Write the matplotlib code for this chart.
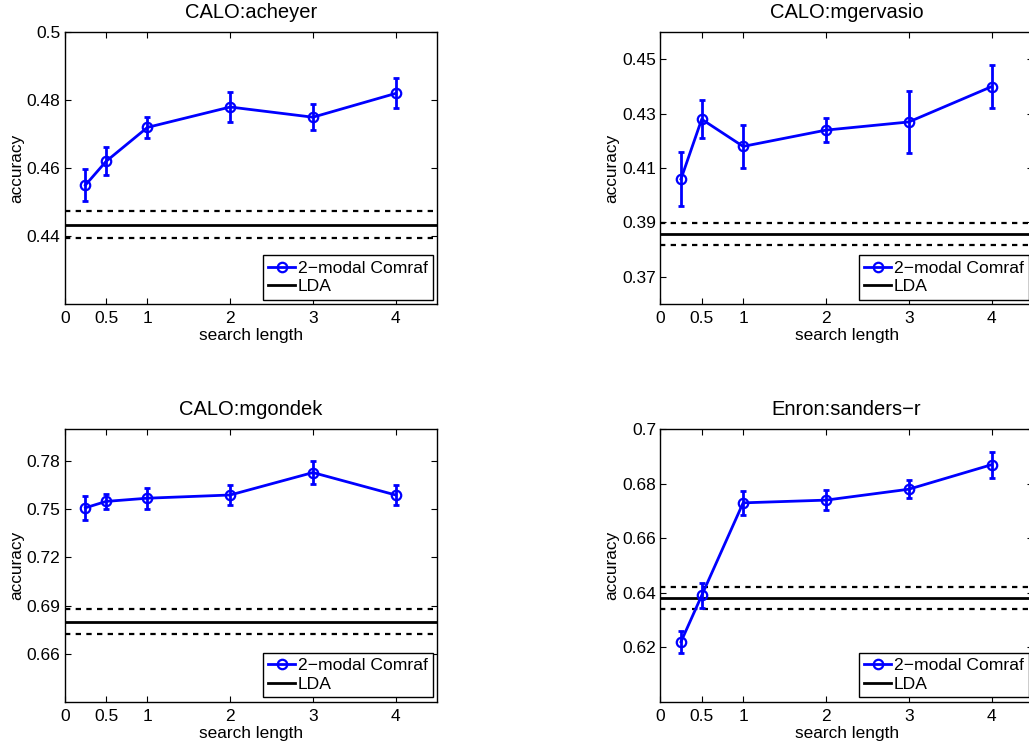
"""
Accuracy vs. search length for 2-modal Comraf, with the LDA baseline (mean +/- std).
"""
import matplotlib
matplotlib.use("Agg")
import matplotlib.pyplot as plt

plt.rcParams["font.family"] = ["Liberation Sans", "DejaVu Sans"]

search_length = [0.25, 0.5, 1, 2, 3, 4]
x_ticks = [0, 0.5, 1, 2, 3, 4]
x_tick_labels = ["0", "0.5", "1", "2", "3", "4"]

titles = ["CALO:acheyer", "CALO:mgervasio", "CALO:mgondek", "Enron:sanders\u2212r"]

# Comraf accuracy and error for each dataset
acc_acheyer = [0.455, 0.462, 0.472, 0.478, 0.475, 0.482]
err_acheyer = [0.0048, 0.0041, 0.003, 0.0044, 0.0039, 0.0044]
acc_mgervasio = [0.406, 0.428, 0.418, 0.424, 0.427, 0.440]
err_mgervasio = [0.010, 0.007, 0.008, 0.0045, 0.0115, 0.008]
acc_mgondek = [0.751, 0.755, 0.757, 0.759, 0.773, 0.759]
err_mgondek = [0.0076, 0.0049, 0.0066, 0.0065, 0.0073, 0.0061]
acc_sanders = [0.622, 0.639, 0.673, 0.674, 0.678, 0.687]
err_sanders = [0.004, 0.0045, 0.0043, 0.0036, 0.0034, 0.0048]

# LDA baseline mean and spread
lda_mean = [0.4434, 0.3857, 0.680, 0.638]
lda_spread = [0.004, 0.004, 0.008, 0.004]

y_limits = [(0.42, 0.50), (0.36, 0.46), (0.63, 0.80), (0.60, 0.70)]
y_ticks = [
    [0.44, 0.46, 0.48, 0.50],
    [0.37, 0.39, 0.41, 0.43, 0.45],
    [0.66, 0.69, 0.72, 0.75, 0.78],
    [0.62, 0.64, 0.66, 0.68, 0.70],
]
y_tick_labels = [
    ["0.44", "0.46", "0.48", "0.5"],
    ["0.37", "0.39", "0.41", "0.43", "0.45"],
    ["0.66", "0.69", "0.72", "0.75", "0.78"],
    ["0.62", "0.64", "0.66", "0.68", "0.7"],
]

accs = [acc_acheyer, acc_mgervasio, acc_mgondek, acc_sanders]
errs = [err_acheyer, err_mgervasio, err_mgondek, err_sanders]

W, H = 1029, 744
fig = plt.figure(figsize=(W / 100, H / 100), dpi=100)

# axes boxes in pixels: left, top, right, bottom
boxes = [
    (64.7, 32.3, 437.0, 304.0),
    (660.3, 32.3, 1033.0, 304.0),
    (64.7, 429.3, 437.0, 701.7),
    (660.3, 429.3, 1033.0, 701.7),
]

blue = "#0000ff"

for i in range(4):
    l, t, r, b = boxes[i]
    ax = fig.add_axes([l / W, 1 - b / H, (r - l) / W, (b - t) / H])

    m, s = lda_mean[i], lda_spread[i]
    ax.axhline(m + s, color="black", lw=1.6, ls=(0, (2.4, 2.4)))
    ax.axhline(m - s, color="black", lw=1.6, ls=(0, (2.4, 2.4)))

    ax.errorbar(search_length, accs[i], yerr=errs[i], fmt="none",
                ecolor=blue, elinewidth=2, capsize=2.2, capthick=2, zorder=3)
    ax.plot(search_length, accs[i], "o-", color=blue, lw=2,
            markersize=6.8, markerfacecolor="none", markeredgewidth=1.6,
            label="2\u2212modal Comraf", zorder=4)
    ax.axhline(m, color="black", lw=2, label="LDA")

    ax.set_xlim(0, 4.5)
    ax.set_ylim(*y_limits[i])
    ax.set_xticks(x_ticks)
    ax.set_xticklabels(x_tick_labels)
    ax.set_yticks(y_ticks[i])
    ax.set_yticklabels(y_tick_labels[i])
    ax.tick_params(direction="in", top=True, right=True, length=4,
                   labelsize=12.5, pad=3)
    ax.tick_params(axis="x", pad=5)
    for sp in ax.spines.values():
        sp.set_linewidth(1.0)

    ax.set_title(titles[i], fontsize=14.5, pad=10.5)
    ax.set_xlabel("search length", fontsize=12.4, labelpad=1.5)
    ax.set_ylabel("accuracy", fontsize=12.4, labelpad=2)

    leg = ax.legend(loc="lower right", fontsize=12.6, fancybox=False,
                    edgecolor="black", framealpha=1, borderaxespad=0.25,
                    handlelength=1.55, handletextpad=0.12, labelspacing=0.2,
                    borderpad=0.3)
    leg.get_frame().set_linewidth(1.0)

fig.savefig("out.png", dpi=100)
